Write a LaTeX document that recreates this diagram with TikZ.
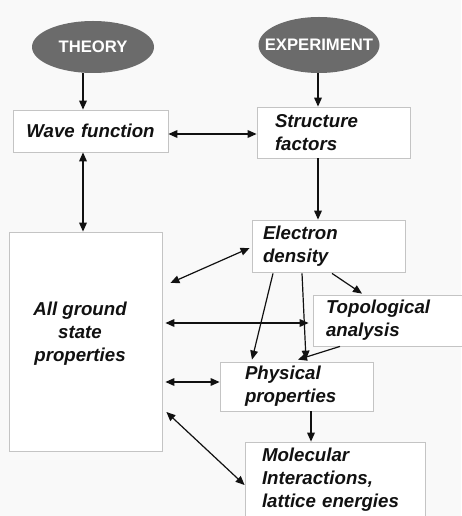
\documentclass[tikz,border=0pt]{standalone}
\usepackage{fontspec}
\setmainfont{Liberation Sans}
\usepackage{tikz}
\usetikzlibrary{arrows.meta,shapes.geometric,calc}
\definecolor{figoval}{HTML}{6B6B6B}
\definecolor{figedge}{HTML}{C4C4C4}
\definecolor{figpaper}{HTML}{F9F9F9}
\definecolor{figink}{HTML}{111111}

\begin{document}
\begin{tikzpicture}[x=0.75pt, y=-0.75pt,
  oval/.style={ellipse, fill=figoval, draw=none, inner sep=0pt},
  ovaltext/.style={text=white, font=\bfseries\fontsize{12.5}{14}\selectfont},
  box/.style={draw=figedge, fill=white, line width=0.6pt, inner ysep=2pt, align=left,
              text=figink, font=\bfseries\itshape\fontsize{14}{17.25}\selectfont},
  boxtext/.style={align=center, inner sep=0pt, text=figink,
              font=\bfseries\itshape\fontsize{14}{17.25}\selectfont},
  arr/.style={-{Triangle[length=6.75pt,width=5.75pt]}, line width=0.9pt, draw=figink},
  dbl/.style={{Triangle[length=6.75pt,width=5.75pt]}-{Triangle[length=6.75pt,width=5.75pt]}, line width=0.9pt, draw=figink}]
\useasboundingbox (0,0) rectangle (461,516);
\fill[figpaper] (0,0) rectangle (461,516);
\node[oval, minimum width=91.5pt, minimum height=39pt,
      label={[ovaltext]center:THEORY}]     (theory) at (93,47)  {};
\node[oval, minimum width=90.75pt, minimum height=42pt,
      label={[ovaltext]center:EXPERIMENT}] (exp)    at (319,45) {};
\node[box, align=center, text width=116.25pt, inner xsep=0pt, minimum height=31.5pt]   (wave)   at (90.5,131)  {Wave function};
\node[box, text width=87.75pt, inner xsep=13.5pt, minimum height=38.25pt]              (struct) at (333.5,132.5) {Structure\\factors};
\node[box, text width=98.25pt, inner xsep=8.25pt, minimum height=39pt]                 (elec)   at (328.5,246)  {Electron\\density};
\node[box, minimum width=114.75pt, minimum height=164.25pt]                            (allg)   at (85.5,341.5) {};
\node[boxtext]                                                                          (allgtx) at (80,334)    {All ground\\state\\properties};
\node[box, text width=93pt, inner xsep=9.75pt, minimum height=38.25pt]                 (topo)   at (388,320.5)  {Topological\\analysis};
\node[box, text width=77.25pt, inner xsep=18.75pt, minimum height=36.75pt]             (phys)   at (296.5,386.5) {Physical\\properties};
\node[box, text width=109.5pt, inner xsep=12.75pt, minimum height=57pt]                (molec)  at (335,480)    {Molecular\\Interactions,\\lattice energies};
\draw[arr] ($(theory.south)+(-10,0)$) -- ($(wave.north)+(-7.5,0)$);
\draw[arr] ($(exp.south)+(-1,0)$) -- ($(struct.north)+(-15.5,0)$);
\draw[dbl] ($(wave.east)+(0,3)$) -- ($(wave.east -| struct.west)+(0,3)$);
\draw[dbl] ($(wave.south)+(-7.5,0)$) -- ($(allg.north)+(-2.5,0)$);
\draw[arr] ($(struct.south)+(-15.5,0)$) -- ($(elec.north)+(-10.5,0)$);
\draw[dbl] ($(allg.east)+(8,-58.5)$) -- ($(elec.west)+(-2,2)$);
\draw[dbl] ($(allg.east)+(3,-18.5)$) -- ($(topo.west)+(-4,2.5)$);
\draw[arr] ($(elec.south)+(3.5,1)$) -- ($(topo.north)+(-26,-1)$);
\draw[arr] ($(elec.south)+(-55.5,1)$) -- ($(phys.north)+(-44.5,-2)$);
\draw[arr] ($(elec.south)+(-26.5,1)$) -- ($(phys.north)+(9.5,-2)$);
\draw[arr] ($(topo.south)+(-48,0)$) -- ($(phys.north)+(1.5,-2)$);
\draw[dbl] ($(allg.east)+(3,40.5)$) -- ($(phys.west)+(0,-4.5)$);
\draw[arr] ($(phys.south)+(14.5,0)$) -- ($(molec.north)+(-24,0)$);
\draw[dbl] ($(allg.east)+(4,70.5)$) -- ($(molec.west)+(0,5)$);
\end{tikzpicture}
\end{document}
